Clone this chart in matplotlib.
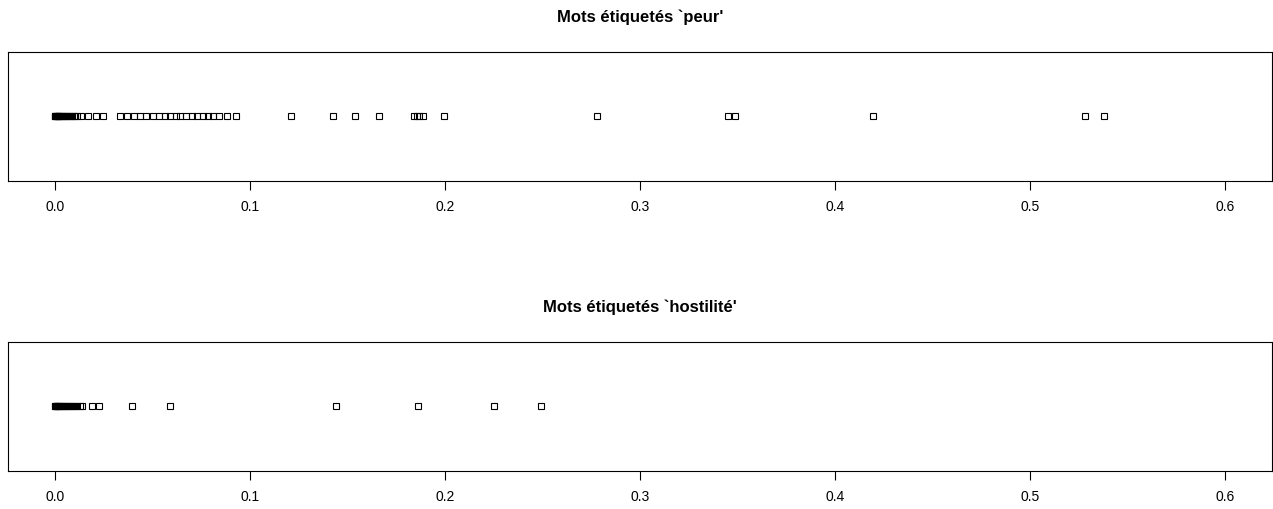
# stripcharts des scores par mot, deux étiquettes

import matplotlib.pyplot as plt

plt.rcParams["font.family"] = ["Liberation Sans", "DejaVu Sans"]

# scores des mots étiquetés 'peur'
peur = [0, 0, 0.0003, 0.0006, 0.001, 0.0014, 0.0018, 0.0022, 0.0027, 0.0032,
        0.0038, 0.0044, 0.005, 0.0057, 0.0064, 0.0072, 0.008, 0.0088, 0.0096,
        0.0104, 0.0112, 0.0135, 0.017, 0.021, 0.0245,
        0.0336, 0.037, 0.0404, 0.0435, 0.0465, 0.0503, 0.0534, 0.0564, 0.0592,
        0.0619, 0.0643, 0.067, 0.0701, 0.0728, 0.0758, 0.0784, 0.0813, 0.084,
        0.0881, 0.0929,
        0.121, 0.1427, 0.154, 0.166, 0.1841, 0.1855, 0.1869, 0.1886, 0.1995,
        0.2777, 0.3453, 0.3488, 0.4194, 0.5279, 0.5381]

# scores des mots étiquetés 'hostilité'
hostilite = [0, 0, 0.0004, 0.0008, 0.0012, 0.0017, 0.0022, 0.0028, 0.0034,
             0.004, 0.0047, 0.0054, 0.0062, 0.007, 0.0078, 0.0086, 0.0095,
             0.0105, 0.0115, 0.0128, 0.014, 0.019, 0.0225, 0.0397, 0.0588,
             0.1441, 0.1862, 0.2254, 0.2495]

titres = ["Mots étiquetés `peur'", "Mots étiquetés `hostilité'"]
ticks = [0.0, 0.1, 0.2, 0.3, 0.4, 0.5, 0.6]
tick_labels = ["0.0", "0.1", "0.2", "0.3", "0.4", "0.5", "0.6"]

fig = plt.figure(figsize=(12.73, 5.10), dpi=100)
W, H = 1273, 510
positions = [(8, 52.7, 1272, 181.7), (8, 342.7, 1272, 471.7)]

for (x0, y0, x1, y1), valeurs, titre in zip(positions, [peur, hostilite], titres):
    ax = fig.add_axes([x0 / W, 1 - y1 / H, (x1 - x0) / W, (y1 - y0) / H])
    ax.plot(valeurs, [1] * len(valeurs), linestyle="none", marker="s",
            markersize=5, markerfacecolor="none", markeredgecolor="black",
            markeredgewidth=0.8)
    ax.set_xlim(-0.024, 0.624)
    ax.set_ylim(0, 2)
    ax.set_yticks([])
    ax.set_xticks(ticks)
    ax.set_xticklabels(tick_labels, fontsize=10)
    ax.tick_params(axis="x", direction="out", length=6.5, width=0.8, pad=7)
    for sp in ax.spines.values():
        sp.set_linewidth(0.8)
    ax.text(0.5, 1 + 35.7 / (y1 - y0), titre, transform=ax.transAxes,
            ha="center", va="center", fontsize=12, fontweight="bold")

fig.savefig("out.png", dpi=100)
